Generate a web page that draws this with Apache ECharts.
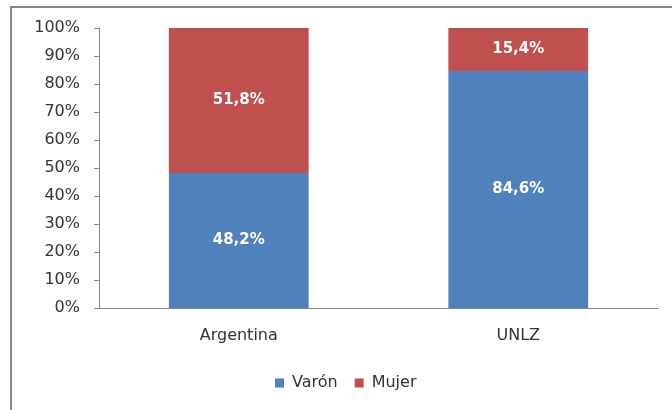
<!DOCTYPE html>
<html>
<head>
<meta charset="utf-8">
<script src="https://cdn.jsdelivr.net/npm/echarts@6/dist/echarts.min.js"></script>
<style>
    html, body { margin: 0; padding: 0; background: #fff; }
    #chart { width: 672px; height: 410px; }
</style>
</head>
<body>
<div id="chart"></div>
<script>
var categories = ['Argentina', 'UNLZ'];
var varonData = [48.2, 84.6];
var mujerData = [51.8, 15.4];
var yTicks = [0, 10, 20, 30, 40, 50, 60, 70, 80, 90, 100];

var myChart = echarts.init(document.getElementById('chart'));
var font = '"DejaVu Sans", sans-serif';

function pctLabel(p) {
    return p.value.toFixed(1).replace('.', ',') + '%';
}

var option = {
    animation: false,
    textStyle: {fontFamily: font},
    graphic: [{
        type: 'rect',
        shape: {x: 11, y: 7, width: 700, height: 440},
        style: {fill: null, stroke: '#868686', lineWidth: 2}
    }],
    legend: {
        bottom: 14,
        left: 270,
        itemWidth: 9,
        itemHeight: 9,
        itemGap: 17,
        icon: 'rect',
        textStyle: {fontSize: 16, color: '#333', fontFamily: font, padding: [0, 0, 0, 3]},
        data: ['Varón', 'Mujer']
    },
    grid: {
        left: 99,
        right: 14,
        top: 28,
        bottom: 102
    },
    xAxis: [{
        type: 'category',
        data: categories,
        axisLine: {lineStyle: {color: '#868686'}},
        axisTick: {length: 6, lineStyle: {color: '#868686'}},
        axisLabel: {fontSize: 16, color: '#333', margin: 20, fontFamily: font}
    }],
    yAxis: [{
        type: 'value',
        min: yTicks[0],
        max: yTicks[yTicks.length - 1],
        interval: 10,
        axisLine: {show: true, lineStyle: {color: '#868686'}},
        axisTick: {show: true, length: 5, lineStyle: {color: '#868686'}},
        splitLine: {show: false},
        axisLabel: {
            fontSize: 16,
            color: '#333',
            margin: 19,
            fontFamily: font,
            formatter: function (v) { return v + '%'; }
        }
    }],
    series: [
        {
            name: 'Varón',
            type: 'bar',
            stack: 'total',
            barWidth: '50%',
            data: varonData,
            itemStyle: {color: '#4F81BD'},
            label: {
                show: true,
                color: '#fff',
                fontSize: 15,
                fontWeight: 'bold',
                fontFamily: font,
                formatter: pctLabel
            }
        },
        {
            name: 'Mujer',
            type: 'bar',
            stack: 'total',
            barWidth: '50%',
            data: mujerData,
            itemStyle: {color: '#C0504D'},
            label: {
                show: true,
                color: '#fff',
                fontSize: 15,
                fontWeight: 'bold',
                fontFamily: font,
                formatter: pctLabel
            }
        }
    ]
};

myChart.setOption(option);
</script>
</body>
</html>
